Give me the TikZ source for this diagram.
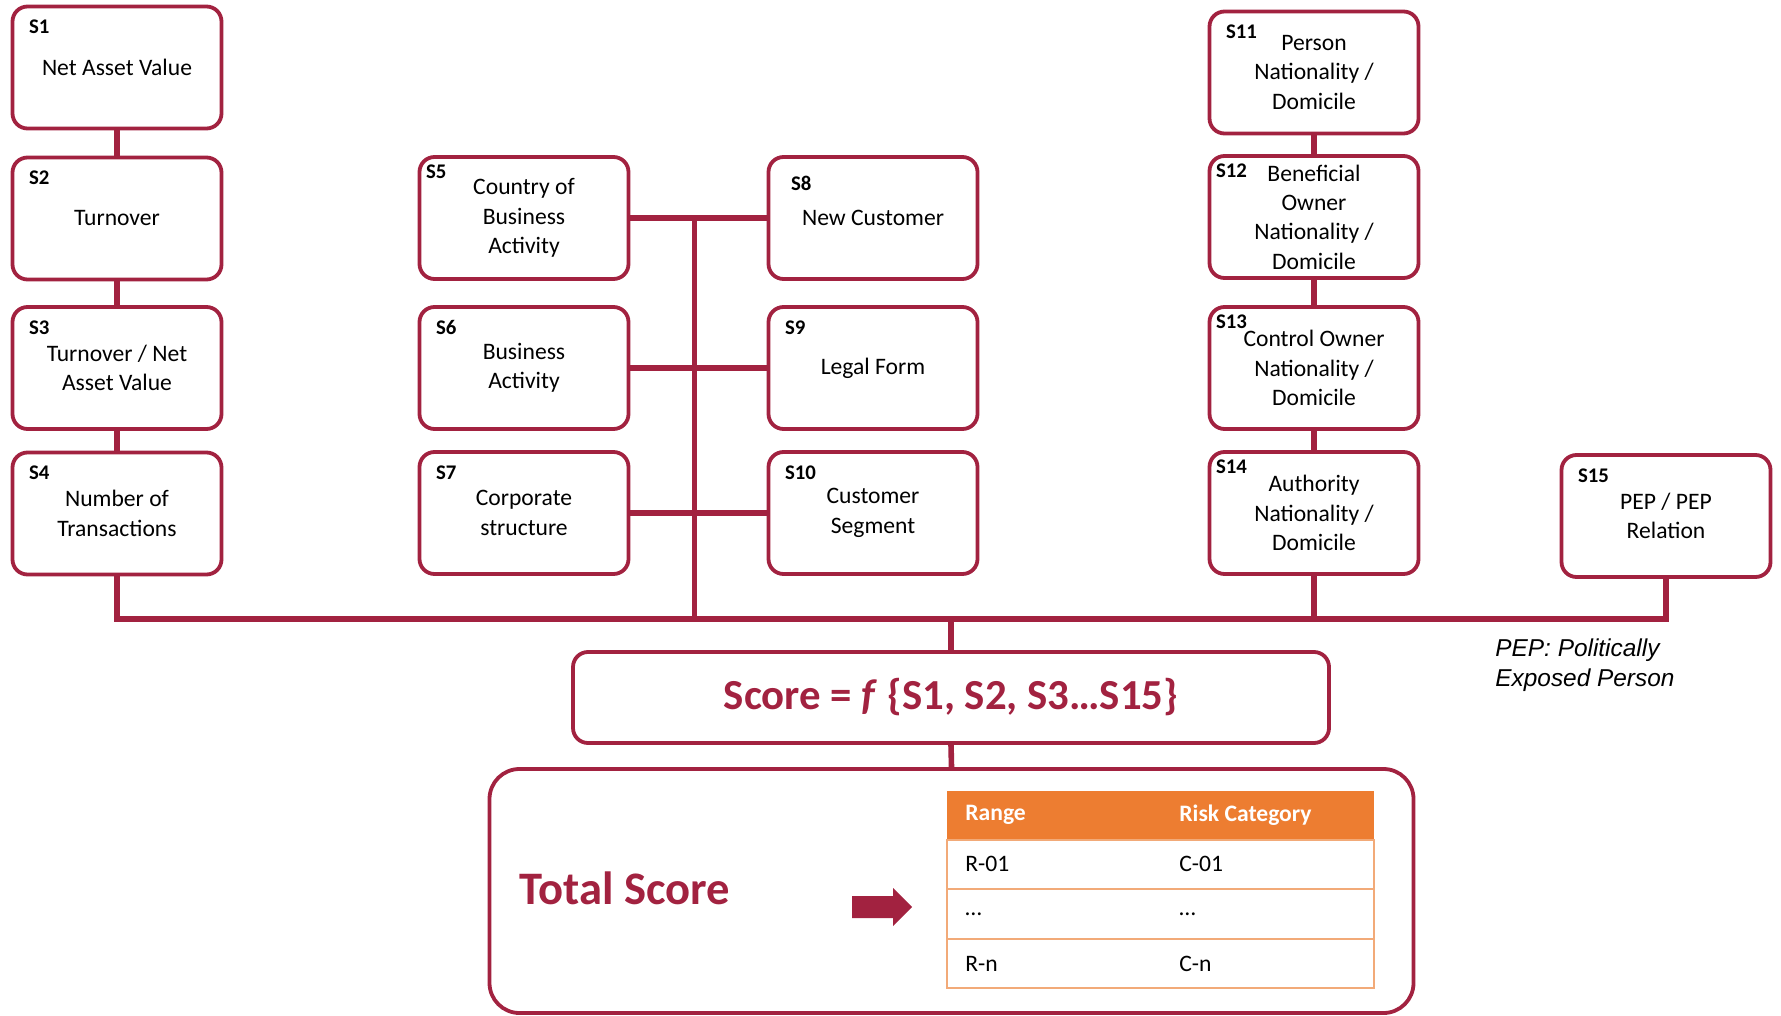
\documentclass[tikz,border=0pt]{standalone}
\usepackage{fontspec}
\setmainfont{Carlito}
\newfontfamily\notefont{Liberation Sans}
\usetikzlibrary{positioning,arrows.meta,calc}
\definecolor{riskred}{RGB}{162,34,64}
\definecolor{hdrorange}{RGB}{237,125,49}
\definecolor{rowline}{RGB}{242,170,120}
\tikzset{
  fac/.style={draw=riskred, line width=1.9pt, rounded corners=7.5pt, fill=white,
              align=center, font=\fontsize{11.8}{14.7}\selectfont,
              minimum width=104.5pt, minimum height=61pt, inner sep=2pt},
  slab/.style={anchor=north west, inner sep=0pt, xshift=9pt, yshift=-7.5pt,
               font=\fontsize{10.4}{12}\selectfont\bfseries},
  slabin/.style={slab, xshift=-5pt, yshift=2.7pt},
  link/.style={draw=riskred, line width=2.8pt},
  scorebox/.style={draw=riskred, line width=1.9pt, rounded corners=7.5pt,
                   minimum width=378pt, minimum height=45.5pt, text=riskred,
                   font=\fontsize{21.4}{25}\selectfont\bfseries},
  totbox/.style={draw=riskred, line width=1.9pt, rounded corners=15pt,
                 minimum width=462pt, minimum height=122pt},
  hdr/.style={fill=hdrorange, minimum width=213.5pt, minimum height=24.5pt,
              inner sep=0pt, outer sep=0pt},
  trow/.style={draw=rowline, line width=1pt, fill=white, minimum width=213.5pt,
               minimum height=24.8pt, inner sep=0pt, outer sep=0pt},
  tcell/.style={inner sep=0pt, font=\fontsize{11.8}{14}\selectfont},
  note/.style={inner sep=0pt, align=left,
               font=\notefont\itshape\fontsize{12.2}{15.3}\selectfont},
}
\begin{document}
\begin{tikzpicture}[x=0.5pt, y=-0.5pt]
  \useasboundingbox (0,0) rectangle (1781,1016);
  % financial factors
  \node[fac, label={[slab]north west:S1}] (s1) at (117,67.5) {Net Asset Value};
  \node[fac, label={[slab]north west:S2}] (s2) at (117,218.5) {Turnover};
  \node[fac, label={[slab]north west:S3}] (s3) at (117,368) {Turnover / Net\\Asset Value};
  \node[fac, label={[slab]north west:S4}] (s4) at (117,513.5) {Number of\\Transactions};
  % business factors
  \node[fac, label={[slabin]north west:S5}] (s5) at (524,218) {Country of\\Business\\Activity};
  \node[fac, label={[slab]north west:S6}] (s6) at (524,368) {Business\\Activity};
  \node[fac, label={[slab]north west:S7}] (s7) at (524,513) {Corporate\\structure};
  \node[fac, label={[slab, xshift=3pt, yshift=-3pt]north west:S8}] (s8) at (873,218) {New Customer};
  \node[fac, label={[slab]north west:S9}] (s9) at (873,368) {Legal Form};
  \node[fac, label={[slab]north west:S10}] (s10) at (873,513) {Customer\\Segment};
  % person factors
  \node[fac, label={[slab]north west:S11}] (s11) at (1314,72.5) {Person\\Nationality /\\Domicile};
  \node[fac, label={[slabin]north west:S12}] (s12) at (1314,217) {Beneficial\\Owner\\Nationality /\\Domicile};
  \node[fac, label={[slabin]north west:S13}] (s13) at (1314,368) {Control Owner\\Nationality /\\Domicile};
  \node[fac, label={[slabin]north west:S14}] (s14) at (1314,513) {Authority\\Nationality /\\Domicile};
  \node[fac, label={[slab]north west:S15}] (s15) at (1666,516) {PEP / PEP\\Relation};
  \node[note, anchor=west] (pep) at (1495,665) {PEP: Politically\\Exposed Person};

  % score and result
  \coordinate (bus) at (951,619);
  \node[scorebox] (score) at (951,697.5) {Score = \textit{f} \{S1, S2, S3…S15\}};
  \node[totbox] (tot) at (951.5,891) {};
  \node[text=riskred, font=\fontsize{23.3}{28}\selectfont\bfseries] (totlbl) at (625,888) {Total Score};
  \coordinate (arr) at (852,907);
  \fill[riskred] (arr) ++(0,-11) -- ++(41,0) -- ++(0,-8) -- ++(19,19)
    -- ++(-19,19) -- ++(0,-8) -- ++(-41,0) -- cycle;

  % range table
  \node[hdr] (hd) at (1160.5,815) {};
  \node[trow, below=0pt of hd] (r1) {};
  \node[trow, below=0pt of r1] (r2) {};
  \node[trow, below=0pt of r2] (r3) {};
  \node[tcell, text=white, font=\fontsize{11.8}{14}\selectfont\bfseries, right=9pt of hd.west] (hA) {Range};
  \node[tcell, text=white, font=\fontsize{11.8}{14}\selectfont\bfseries, right=116pt of hd.west] (hB) {Risk Category};
  \node[tcell, right=9pt of r1.west] (r1A) {R-01};
  \node[tcell, right=116pt of r1.west] (r1B) {C-01};
  \node[tcell, right=9pt of r2.west] (r2A) {…};
  \node[tcell, right=116pt of r2.west] (r2B) {…};
  \node[tcell, right=9pt of r3.west] (r3A) {R-n};
  \node[tcell, right=116pt of r3.west] (r3B) {C-n};

  % connectors
  \draw[link] (s1.south) -- (s2.north);
  \draw[link] (s2.south) -- (s3.north);
  \draw[link] (s3.south) -- (s4.north);
  \draw[link] (s11.south) -- (s12.north);
  \draw[link] (s12.south) -- (s13.north);
  \draw[link] (s13.south) -- (s14.north);
  \draw[link] (s5.east) -- (s8.west);
  \draw[link] (s6.east) -- (s9.west);
  \draw[link] (s7.east) -- (s10.west);
  \coordinate (trunk) at ($(s5.east)!0.47!(s8.west)$);
  \draw[link] (trunk) -- (trunk |- bus);
  \draw[link] (s4.south) |- (bus) -| (s15.south);
  \draw[link] (s14.south) -- (s14.south |- bus);
  \draw[link] (bus) -- (score.north);
  \draw[link] (score.south) -- (tot.north);
\end{tikzpicture}
\end{document}
